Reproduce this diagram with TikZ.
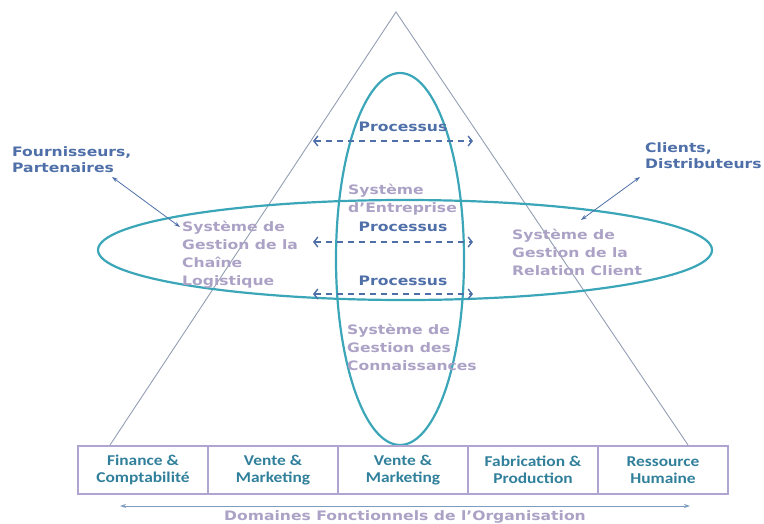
\documentclass[tikz,border=0pt]{standalone}
\usepackage{fontspec}
\usetikzlibrary{arrows.meta}
\newfontfamily\verdfont{DejaVu Sans}[FakeStretch=1.2]
\newfontfamily\calfont{Carlito}[FakeStretch=1.16]

\definecolor{ellipseaqua}{RGB}{58,166,184}
\definecolor{procblue}{RGB}{79,111,168}
\definecolor{systext}{RGB}{172,162,198}
\definecolor{boxline}{RGB}{176,164,208}
\definecolor{boxtext}{RGB}{49,128,155}
\definecolor{trigray}{RGB}{148,158,178}
\definecolor{axisblue}{RGB}{126,156,192}

\tikzset{
  procarrow/.style={procblue, line width=1.4pt, dash pattern=on 6pt off 5pt,
    {Straight Barb[length=4pt,width=10pt,line width=1.4pt]}-{Straight Barb[length=4pt,width=10pt,line width=1.4pt]}},
  linkarrow/.style={procblue, line width=0.8pt, {Stealth[length=6pt,width=4pt]}-{Stealth[length=6pt,width=4pt]}},
  proclabel/.style={inner sep=0pt, font=\verdfont\bfseries\fontsize{13}{16}\selectfont, text=procblue},
  extlabel/.style={inner sep=0pt, anchor=west, align=left, font=\verdfont\bfseries\fontsize{13}{16}\selectfont, text=procblue},
  syslabel/.style={inner sep=0pt, anchor=west, align=left, font=\verdfont\bfseries\fontsize{13}{18}\selectfont, text=systext},
  domaine/.style={draw=boxline, line width=1.5pt, fill=white, minimum width=130pt, minimum height=48pt,
    align=center, inner sep=0pt, font=\calfont\bfseries\fontsize{15}{17}\selectfont, text=boxtext}
}

\begin{document}
\begin{tikzpicture}[x=1pt, y=-1pt]
\useasboundingbox (0,0) rectangle (764,523);

% pyramide
\draw [trigray, line width=0.9pt] (110,445) -- (396,12) -- (688,445);

% systemes
\draw [ellipseaqua, line width=2.2pt] (400,259) ellipse [x radius=64pt, y radius=186pt];
\draw [ellipseaqua, line width=2.2pt] (405,250) ellipse [x radius=307pt, y radius=50pt];

% processus
\coordinate (p1l) at (313,141);  \coordinate (p1r) at (473,141);
\coordinate (p2l) at (313,242);  \coordinate (p2r) at (473,242);
\coordinate (p3l) at (313,294);  \coordinate (p3r) at (473,294);
\draw [procarrow] (p1l) -- (p1r);
\draw [procarrow] (p2l) -- (p2r);
\draw [procarrow] (p3l) -- (p3r);
\node [proclabel] (proc1) at (403,127) {Processus};
\node [proclabel] (proc2) at (403,227) {Processus};
\node [proclabel] (proc3) at (403,281) {Processus};

\node [syslabel] (entreprise) at (348,200) {Système\\d’Entreprise};
\node [syslabel] (logistique) at (182,255) {Système de\\Gestion de la\\Chaîne\\Logistique};
\node [syslabel] (relation) at (512,252) {Système de\\Gestion de la\\Relation Client};
\node [syslabel] (connaissances) at (347,347) {Système de\\Gestion des\\Connaissances};

% partenaires externes
\node [extlabel] (fournisseurs) at (12,160) {Fournisseurs,\\Partenaires};
\node [extlabel] (clients) at (645,156) {Clients,\\Distributeurs};
\coordinate (fa) at (112,177);  \coordinate (fb) at (180,227);
\coordinate (ca) at (640,177);  \coordinate (cb) at (581,220);
\draw [linkarrow] (fa) -- (fb);
\draw [linkarrow] (ca) -- (cb);

% domaines fonctionnels
\node [domaine] (finance) at (143,470) {Finance \&\\Comptabilité};
\node [domaine] (vente1) at (273,470) {Vente \&\\Marketing};
\node [domaine] (vente2) at (403,470) {Vente \&\\Marketing};
\node [domaine] (fabrication) at (533,470) {Fabrication \&\\Production};
\node [domaine] (ressource) at (663,470) {Ressource\\Humaine};

\coordinate (dl) at (120,506);  \coordinate (dr) at (690,506);
\draw [axisblue, line width=0.9pt, {Stealth[length=6pt,width=4pt]}-{Stealth[length=6pt,width=4pt]}] (dl) -- (dr);
\node [syslabel, anchor=center, fill=white, inner sep=1pt] (domaines) at (405,517) {Domaines Fonctionnels de l’Organisation};

\end{tikzpicture}
\end{document}
